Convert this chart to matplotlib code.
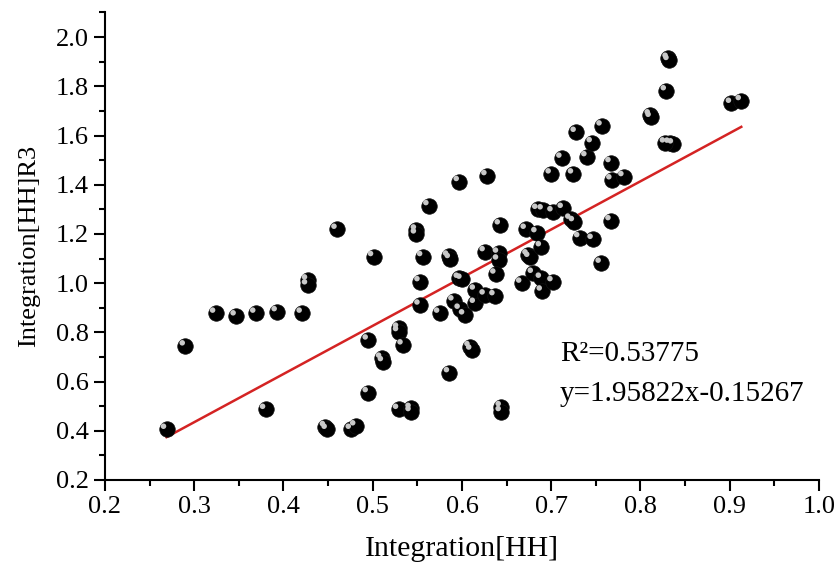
import numpy as np
import matplotlib
matplotlib.use('Agg')
import matplotlib.pyplot as plt
from matplotlib.ticker import MultipleLocator, FormatStrFormatter
from matplotlib.transforms import offset_copy

# dados
x_hh = [0.269, 0.290, 0.324, 0.347, 0.369, 0.393, 0.421, 0.427, 0.427, 0.380,
        0.447, 0.449, 0.476, 0.481, 0.460, 0.501, 0.495, 0.495, 0.510, 0.512,
        0.529, 0.529, 0.534, 0.529, 0.543, 0.543, 0.549, 0.549, 0.563, 0.556,
        0.553, 0.553, 0.585, 0.587, 0.575, 0.586, 0.591, 0.598, 0.603, 0.597,
        0.597, 0.600, 0.609, 0.611, 0.615, 0.615, 0.626, 0.637, 0.628, 0.626,
        0.641, 0.641, 0.643, 0.638, 0.644, 0.644, 0.667, 0.672, 0.684, 0.674,
        0.676, 0.680, 0.689, 0.689, 0.690, 0.702, 0.685, 0.691, 0.702, 0.7135,
        0.722, 0.726, 0.700, 0.725, 0.712, 0.740, 0.728, 0.746, 0.757, 0.767,
        0.768, 0.7815, 0.767, 0.732, 0.747, 0.756, 0.811, 0.812, 0.829, 0.831,
        0.832, 0.833, 0.837, 0.828, 0.902, 0.913]
y_r3 = [0.406, 0.745, 0.878, 0.867, 0.878, 0.884, 0.878, 1.013, 0.993, 0.487,
        0.417, 0.406, 0.406, 0.420, 1.219, 1.108, 0.769, 0.555, 0.695, 0.681,
        0.817, 0.803, 0.749, 0.487, 0.491, 0.478, 1.216, 1.200, 1.315, 1.108,
        1.006, 0.911, 1.110, 1.100, 0.878, 0.636, 0.928, 0.894, 0.871, 1.413,
        1.020, 1.016, 0.742, 0.728, 0.918, 0.972, 0.952, 0.949, 1.437, 1.128,
        1.122, 1.094, 1.237, 1.037, 0.498, 0.478, 1.000, 1.219, 1.205, 1.115,
        1.105, 1.040, 1.148, 1.020, 0.968, 1.006, 1.300, 1.298, 1.290, 1.304,
        1.260, 1.250, 1.444, 1.444, 1.508, 1.514, 1.613, 1.571, 1.639, 1.490,
        1.420, 1.433, 1.254, 1.185, 1.178, 1.081, 1.684, 1.674, 1.782, 1.914,
        1.905, 1.569, 1.566, 1.570, 1.731, 1.742]

coef_a = 1.95822
coef_b = -0.15267
r2 = 0.53775

plt.rcParams['font.family'] = ['Liberation Serif', 'DejaVu Serif']

fig = plt.figure(figsize=(8.37, 5.68), dpi=100)
ax = fig.add_axes([0.1254, 0.155, 0.853, 0.823])

# esferas: ponto preto + brilho
ax.scatter(x_hh, y_r3, s=125, color='black', edgecolors='#111111', linewidths=0.5, zorder=3)
hl = offset_copy(ax.transData, fig=fig, x=-2.2, y=2.2, units='points')
ax.scatter(x_hh, y_r3, s=16, color='#c8c8c8', edgecolors='none', transform=hl, zorder=4)

# linha de regressao
xl = np.array([min(x_hh), max(x_hh)])
ax.plot(xl, coef_a * xl + coef_b, color='#d42323', lw=1.8, zorder=2)

ax.text(0.71, 0.71, 'R\u00b2=%.5f' % r2, fontsize=21, va='center')
ax.text(0.71, 0.55, 'y=%.5fx%.5f' % (coef_a, coef_b), fontsize=21, va='center')

ax.set_xlim(0.2, 1.0)
ax.set_ylim(0.2, 2.1)
ax.xaxis.set_minor_locator(MultipleLocator(0.05))
ax.yaxis.set_minor_locator(MultipleLocator(0.1))
ax.set_xticks(np.arange(0.2, 1.01, 0.1))
ax.set_yticks(np.arange(0.2, 2.01, 0.2))
ax.xaxis.set_major_formatter(FormatStrFormatter('%.1f'))
ax.yaxis.set_major_formatter(FormatStrFormatter('%.1f'))

ax.spines['top'].set_visible(False)
ax.spines['right'].set_visible(False)
ax.spines['left'].set_linewidth(1.5)
ax.spines['bottom'].set_linewidth(1.5)
ax.tick_params(which='major', direction='out', length=8, width=1.5, labelsize=19)
ax.tick_params(which='minor', direction='out', length=4.5, width=1.5)

ax.set_xlabel('Integration[HH]', fontsize=21.5, labelpad=13)
ax.set_ylabel('Integration[HH]R3', fontsize=19, labelpad=11)

plt.savefig('out.png', dpi=100)
plt.close()
